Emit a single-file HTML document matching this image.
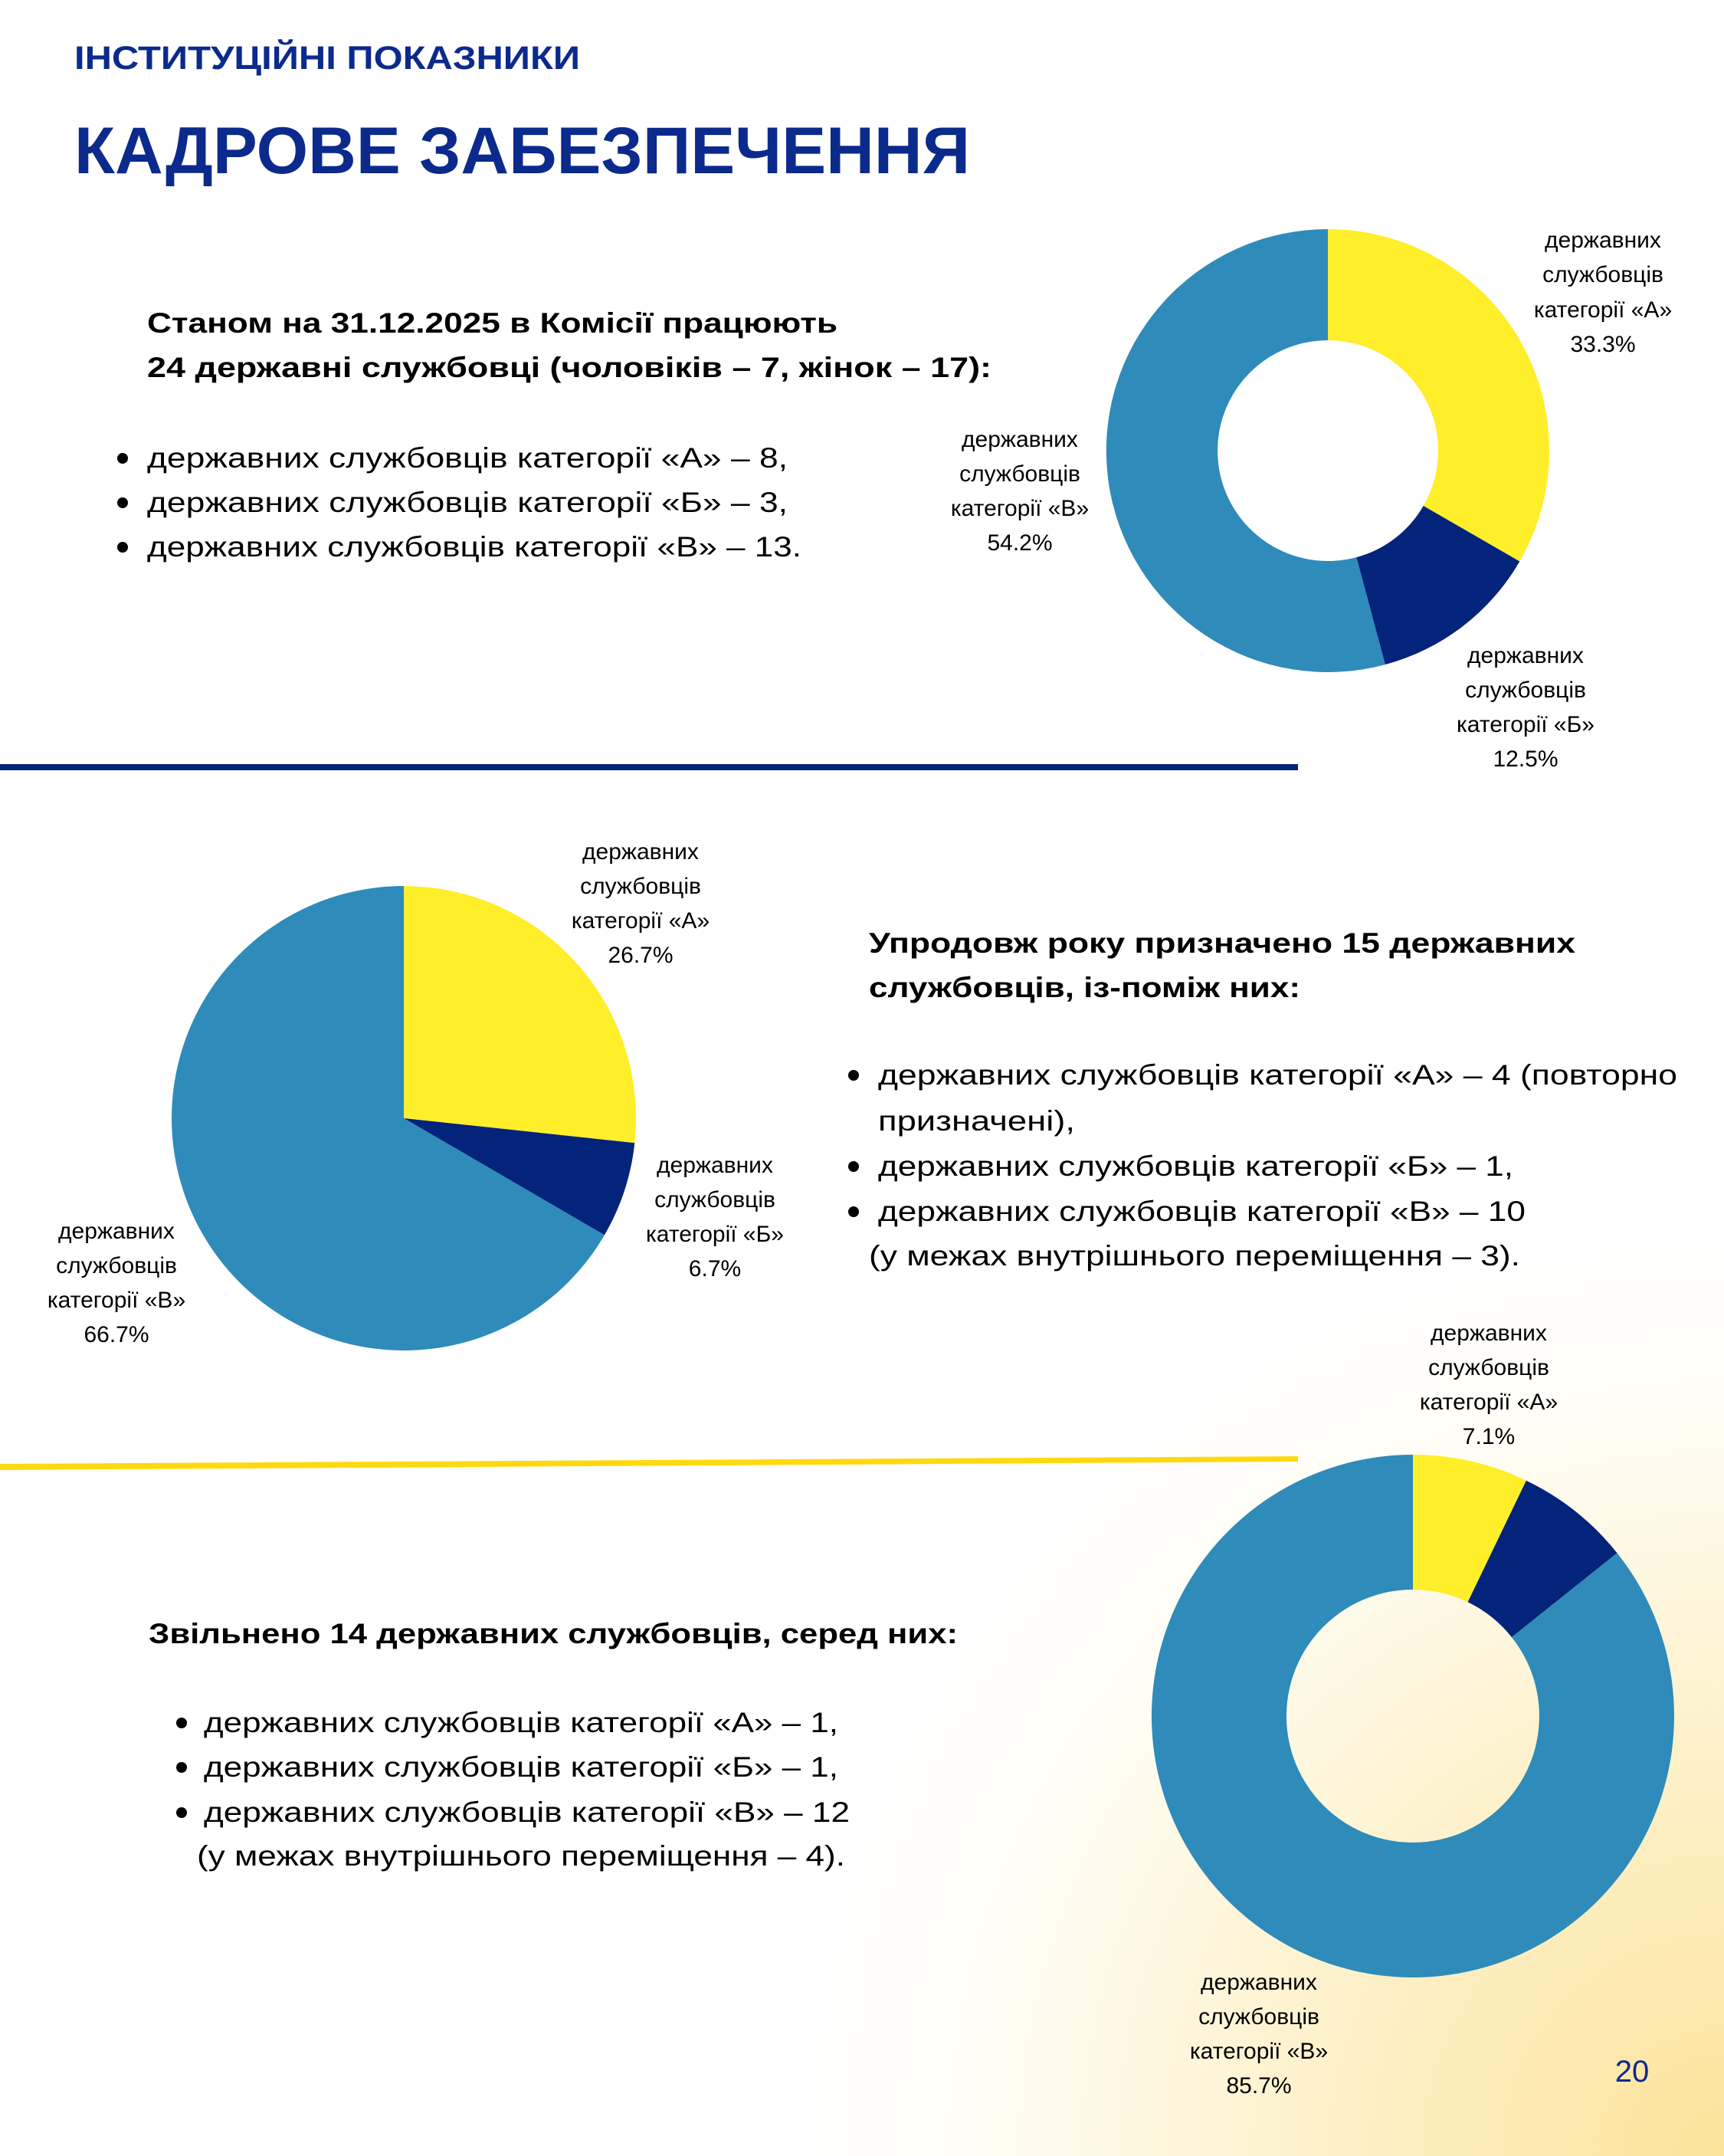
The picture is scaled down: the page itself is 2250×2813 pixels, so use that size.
<!DOCTYPE html>
<html><head><meta charset="utf-8"><style>
html,body{margin:0;padding:0;}
body{width:2250px;height:2813px;overflow:hidden;background:radial-gradient(ellipse 1500px 1500px at 100% 100%, #fbe39a 0%, #fdf1c9 35%, #fffdf5 65%, #ffffff 80%);}
svg{display:block;font-family:"Liberation Sans",sans-serif;}
.b{font-weight:bold;fill:#000;font-size:37px;}
.t{fill:#000;font-size:37px;}
.l{fill:#000;font-size:30px;text-anchor:middle;}
</style></head><body>
<svg width="2250" height="2813" viewBox="0 0 2250 2813">
<text x="97" y="90" font-size="43" font-weight="bold" fill="#0b2a8c" textLength="660" lengthAdjust="spacingAndGlyphs">ІНСТИТУЦІЙНІ ПОКАЗНИКИ</text>
<text x="97" y="226" font-size="86" font-weight="bold" fill="#0b2a8c" textLength="1169" lengthAdjust="spacingAndGlyphs">КАДРОВЕ ЗАБЕЗПЕЧЕННЯ</text>

<text class="b" x="192" y="434" textLength="901" lengthAdjust="spacingAndGlyphs">Станом на 31.12.2025 в Комісії працюють</text>
<text class="b" x="192" y="492" textLength="1102" lengthAdjust="spacingAndGlyphs">24 державні службовці  (чоловіків – 7, жінок – 17):</text>
<circle cx="160" cy="598" r="7" fill="#000"/><circle cx="160" cy="656" r="7" fill="#000"/><circle cx="160" cy="714" r="7" fill="#000"/>
<text class="t" x="192" y="610" textLength="836" lengthAdjust="spacingAndGlyphs">державних службовців категорії «А» – 8,</text>
<text class="t" x="192" y="668" textLength="836" lengthAdjust="spacingAndGlyphs">державних службовців категорії «Б» – 3,</text>
<text class="t" x="192" y="726" textLength="854" lengthAdjust="spacingAndGlyphs">державних службовців категорії «В» – 13.</text>

<path d="M1733,299 A289,289 0 0 1 1983.3,732.5 L1857.7,660 A144,144 0 0 0 1733,444 Z" fill="#ffee2a"/>
<path d="M1983.3,732.5 A289,289 0 0 1 1807.8,867.1 L1770.3,727.1 A144,144 0 0 0 1857.7,660 Z" fill="#04237a"/>
<path d="M1807.8,867.1 A289,289 0 1 1 1733,299 L1733,444 A144,144 0 1 0 1770.3,727.1 Z" fill="#2e8bba"/>
<g class="l">
<text class="l" x="2092" y="323">державних</text><text class="l" x="2092" y="368">службовців</text><text class="l" x="2092" y="414">категорії «А»</text><text class="l" x="2092" y="459">33.3%</text>
<text class="l" x="1331" y="583">державних</text><text class="l" x="1331" y="628">службовців</text><text class="l" x="1331" y="673">категорії «В»</text><text class="l" x="1331" y="718">54.2%</text>
<text class="l" x="1991" y="865">державних</text><text class="l" x="1991" y="910">службовців</text><text class="l" x="1991" y="955">категорії «Б»</text><text class="l" x="1991" y="1000">12.5%</text>
</g>
<rect x="0" y="997" width="1694" height="8" fill="#04237a"/>

<path d="M527,1459 L527,1156 A303,303 0 0 1 828.3,1491.2 Z" fill="#ffee2a"/>
<path d="M527,1459 L828.3,1491.2 A303,303 0 0 1 788.9,1611.4 Z" fill="#04237a"/>
<path d="M527,1459 L788.9,1611.4 A303,303 0 1 1 527,1156 Z" fill="#2e8bba"/>
<text class="l" x="836" y="1121">державних</text><text class="l" x="836" y="1166">службовців</text><text class="l" x="836" y="1211">категорії «А»</text><text class="l" x="836" y="1256">26.7%</text>
<text class="l" x="933" y="1530">державних</text><text class="l" x="933" y="1575">службовців</text><text class="l" x="933" y="1620">категорії «Б»</text><text class="l" x="933" y="1665">6.7%</text>
<text class="l" x="152" y="1616">державних</text><text class="l" x="152" y="1661">службовців</text><text class="l" x="152" y="1706">категорії «В»</text><text class="l" x="152" y="1751">66.7%</text>

<text class="b" x="1134" y="1243" textLength="922" lengthAdjust="spacingAndGlyphs">Упродовж року призначено 15 державних</text>
<text class="b" x="1134" y="1301" textLength="563" lengthAdjust="spacingAndGlyphs">службовців, із-поміж них:</text>
<circle cx="1114" cy="1403" r="7" fill="#000"/><circle cx="1114" cy="1522" r="7" fill="#000"/><circle cx="1114" cy="1581" r="7" fill="#000"/>
<text class="t" x="1146" y="1415" textLength="1043" lengthAdjust="spacingAndGlyphs">державних службовців категорії «А» – 4 (повторно</text>
<text class="t" x="1146" y="1475" textLength="257" lengthAdjust="spacingAndGlyphs">призначені),</text>
<text class="t" x="1146" y="1534" textLength="829" lengthAdjust="spacingAndGlyphs">державних службовців категорії «Б» – 1,</text>
<text class="t" x="1146" y="1593" textLength="845" lengthAdjust="spacingAndGlyphs">державних службовців категорії «В» – 10</text>
<text class="t" x="1134" y="1651" textLength="850" lengthAdjust="spacingAndGlyphs">(у межах внутрішнього переміщення – 3).</text>

<polygon points="0,1910 1694,1900 1694,1907 0,1918" fill="#ffd90f"/>

<path d="M1844,1898 A341,341 0 0 1 1991.9,1931.7 L1915.6,2090.3 A165,165 0 0 0 1844,2074 Z" fill="#ffee2a"/>
<path d="M1991.9,1931.7 A341,341 0 0 1 2110.5,2026.3 L1972.9,2136.1 A165,165 0 0 0 1915.6,2090.3 Z" fill="#04237a"/>
<path d="M2110.5,2026.3 A341,341 0 1 1 1844,1898 L1844,2074 A165,165 0 1 0 1972.9,2136.1 Z" fill="#2e8bba"/>
<text class="l" x="1943" y="1749">державних</text><text class="l" x="1943" y="1794">службовців</text><text class="l" x="1943" y="1839">категорії «А»</text><text class="l" x="1943" y="1884">7.1%</text>
<text class="l" x="1643" y="2596">державних</text><text class="l" x="1643" y="2641">службовців</text><text class="l" x="1643" y="2686">категорії «В»</text><text class="l" x="1643" y="2731">85.7%</text>

<text class="b" x="194" y="2144" textLength="1056" lengthAdjust="spacingAndGlyphs">Звільнено 14 державних службовців, серед них:</text>
<circle cx="237" cy="2248" r="7" fill="#000"/><circle cx="237" cy="2306" r="7" fill="#000"/><circle cx="237" cy="2365" r="7" fill="#000"/>
<text class="t" x="266" y="2260" textLength="828" lengthAdjust="spacingAndGlyphs">державних службовців категорії «А» – 1,</text>
<text class="t" x="266" y="2318" textLength="828" lengthAdjust="spacingAndGlyphs">державних службовців категорії «Б» – 1,</text>
<text class="t" x="266" y="2377" textLength="843" lengthAdjust="spacingAndGlyphs">державних службовців категорії «В» – 12</text>
<text class="t" x="257" y="2434" textLength="846" lengthAdjust="spacingAndGlyphs">(у межах внутрішнього переміщення – 4).</text>

<text x="2130" y="2716" font-size="40" fill="#0b2a8c" text-anchor="middle">20</text>
</svg>
</body></html>
